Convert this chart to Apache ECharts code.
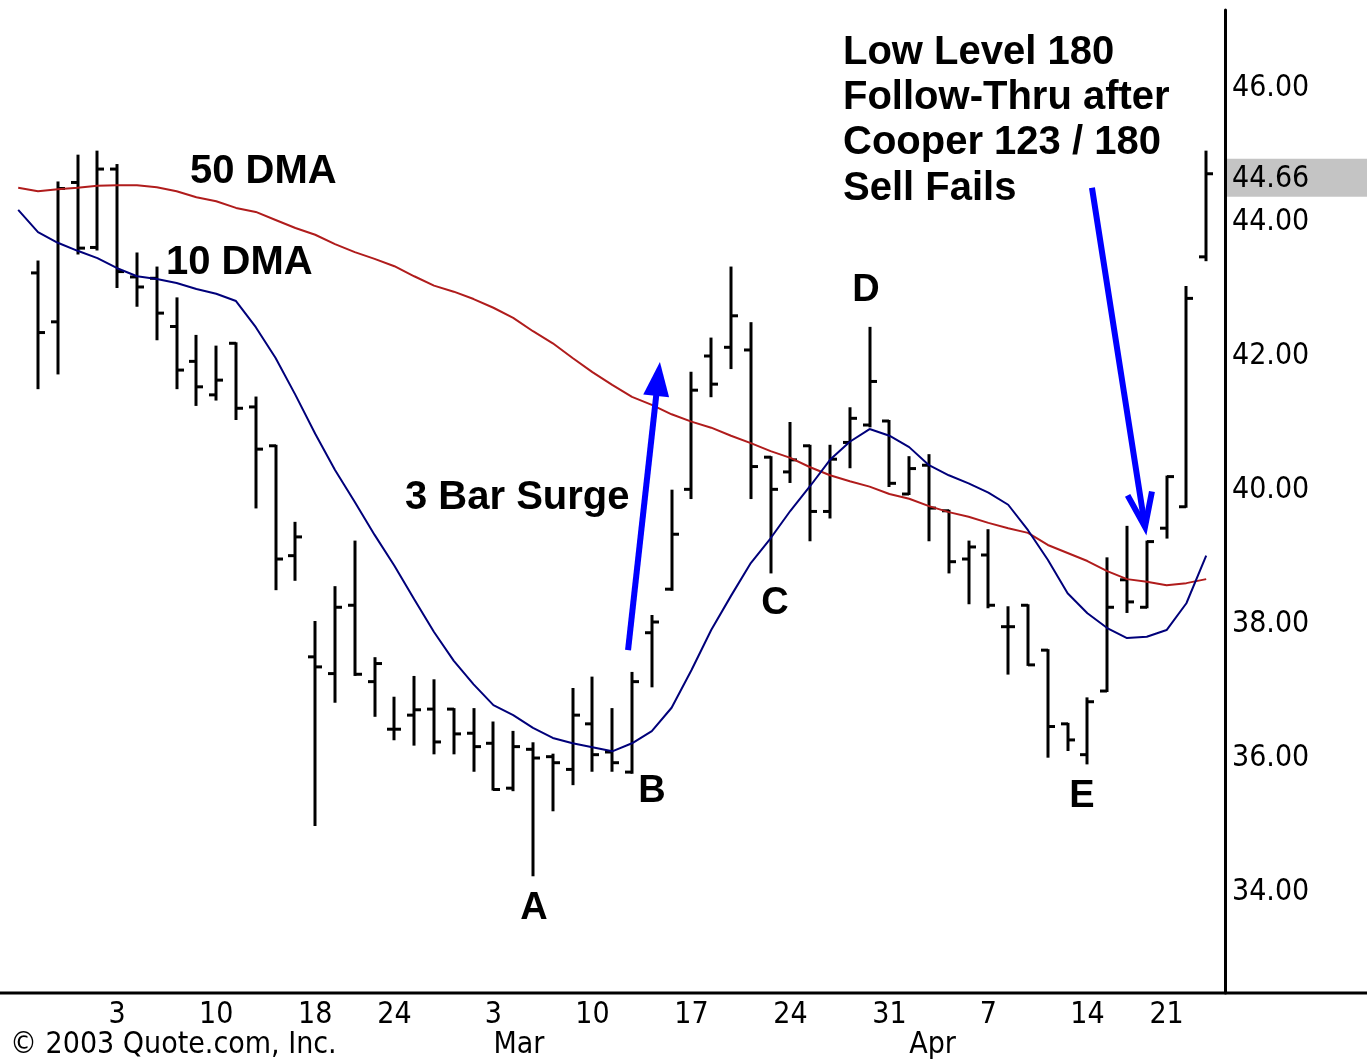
<!DOCTYPE html>
<html>
<head>
<meta charset="utf-8">
<script src="https://cdn.jsdelivr.net/npm/echarts@6/dist/echarts.min.js"></script>
<style>html,body{margin:0;padding:0;background:#fff;overflow:hidden}#c{width:1367px;height:1059px}</style>
</head>
<body>
<div id="c"></div>
<script>
// ---- data ----
const dates = ['01-27','01-28','01-29','01-30','01-31','02-03','02-04','02-05','02-06','02-07',
  '02-10','02-11','02-12','02-13','02-14','02-18','02-19','02-20','02-21','02-24',
  '02-25','02-26','02-27','02-28','03-03','03-04','03-05','03-06','03-07','03-10',
  '03-11','03-12','03-13','03-14','03-17','03-18','03-19','03-20','03-21','03-24',
  '03-25','03-26','03-27','03-28','03-31','04-01','04-02','04-03','04-04','04-07',
  '04-08','04-09','04-10','04-11','04-14','04-15','04-16','04-17','04-21','04-22','04-23'];

const open = [null,
  43.18,42.45,44.53,43.56,44.73,43.12,43.10,42.38,41.86,41.36,
  42.13,41.18,40.60,38.96,37.45,37.20,38.22,37.08,36.37,36.58,
  36.67,36.67,36.31,36.16,35.49,36.07,35.96,35.77,36.45,36.03,
  35.73,37.81,38.46,39.95,41.94,42.07,42.03,40.43,40.21,40.60,
  39.62,40.65,40.91,40.97,39.88,40.31,39.63,38.91,38.97,37.90,
  38.22,37.55,36.45,35.99,36.94,38.60,38.19,39.37,39.69,43.42];
const high = [null,
  43.35,44.53,44.93,44.99,44.79,43.47,43.26,42.80,42.24,42.08,
  42.13,41.32,40.60,39.45,37.97,38.49,39.17,37.43,36.84,37.15,
  37.10,36.67,36.67,36.47,36.33,36.16,35.99,36.97,37.14,36.67,
  37.21,38.06,39.93,41.69,42.20,43.26,42.43,40.43,40.94,40.60,
  40.60,41.16,42.36,40.97,40.43,40.46,39.63,39.17,39.34,38.19,
  38.22,37.55,36.45,36.83,38.92,39.39,39.17,40.14,42.97,44.99];
const low = [null,
  41.46,41.68,43.47,43.53,42.97,42.69,42.19,41.46,41.21,41.29,
  41.00,39.68,38.46,38.60,34.94,36.78,37.18,36.57,36.22,36.14,
  36.01,36.01,35.75,35.47,35.46,34.19,35.16,35.55,35.75,35.75,
  35.72,37.01,38.45,39.82,41.34,41.76,39.82,38.71,40.06,39.19,
  39.53,40.28,40.89,40.00,39.88,39.19,38.71,38.25,38.19,37.20,
  37.33,35.96,36.06,35.86,36.94,38.12,38.19,39.23,39.69,43.37];
const close = [null,
  42.29,44.44,43.55,44.73,43.20,42.97,42.58,41.73,41.48,41.58,
  41.16,40.55,38.91,39.24,37.30,38.19,37.19,37.35,36.37,36.66,
  36.18,36.30,36.11,35.47,36.11,35.94,35.87,36.58,35.99,35.87,
  37.08,37.97,39.28,41.43,41.52,42.54,40.29,39.95,40.39,39.62,
  40.40,41.01,41.56,40.04,40.26,39.67,38.87,39.09,38.22,37.90,
  37.33,36.41,36.21,36.78,38.19,38.27,39.17,40.14,42.80,44.66];

const ma10 = [44.12,
  43.79,43.63,43.51,43.40,43.25,43.13,43.09,43.03,42.94,42.87,
  42.76,42.37,41.91,41.36,40.78,40.24,39.76,39.27,38.81,38.31,
  37.82,37.39,37.04,36.73,36.58,36.39,36.24,36.16,36.10,36.04,
  36.16,36.34,36.69,37.25,37.85,38.36,38.85,39.22,39.63,40.00,
  40.39,40.66,40.85,40.75,40.58,40.31,40.16,40.04,39.90,39.72,
  39.34,38.90,38.40,38.10,37.88,37.73,37.75,37.85,38.25,38.96];
const ma50 = [44.45,
  44.40,44.43,44.45,44.48,44.49,44.49,44.46,44.40,44.31,44.25,
  44.15,44.09,43.97,43.85,43.75,43.61,43.49,43.39,43.28,43.13,
  42.99,42.90,42.79,42.66,42.51,42.31,42.13,41.91,41.70,41.51,
  41.33,41.21,41.07,40.96,40.87,40.75,40.64,40.52,40.42,40.28,
  40.16,40.07,39.99,39.88,39.81,39.70,39.61,39.54,39.45,39.37,
  39.30,39.12,39.00,38.88,38.73,38.61,38.57,38.52,38.55,38.61];

const yTicks = [34, 36, 38, 40, 42, 44, 46];
const tickDates = ['02-03','02-10','02-18','02-24','03-03','03-10','03-17','03-24','03-31','04-07','04-14','04-21'];
const monthTicks = ['03-03','04-01'];
const monthNames = ['Mar','Apr'];

// annotation arrows in data space: [x0, y0, x1, y1, headKind]
const arrows = [
  [30.8, 37.55, 32.41, 41.85, 'solid'],
  [54.23, 44.45, 56.91, 39.39, 'open']
];

// ---- chart ----
const lastClose = close[close.length - 1];
const narrow = "'Liberation Sans Narrow', 'DejaVu Sans Condensed', 'Arial Narrow', sans-serif";
const boldFont = "'Liberation Sans', Arial, sans-serif";

const ohlcData = [];
dates.forEach((d, i) => {
  if (open[i] != null) ohlcData.push([i, open[i], high[i], low[i], close[i]]);
});

function renderBar(params, api) {
  const i = api.value(0);
  const pH = api.coord([i, api.value(2)]);
  const pL = api.coord([i, api.value(3)]);
  const pO = api.coord([i, api.value(1)]);
  const pC = api.coord([i, api.value(4)]);
  const x = Math.round(pH[0]);
  const st = { stroke: '#000', lineWidth: 3 };
  return {
    type: 'group',
    children: [
      { type: 'line', shape: { x1: x, y1: pH[1] - 1, x2: x, y2: pL[1] + 1 }, style: st },
      { type: 'line', shape: { x1: x - 7, y1: pO[1], x2: x, y2: pO[1] }, style: st },
      { type: 'line', shape: { x1: x, y1: pC[1], x2: x + 7, y2: pC[1] }, style: st }
    ]
  };
}

function renderArrow(params, api) {
  const p0 = api.coord([api.value(0), api.value(1)]);
  const p1 = api.coord([api.value(2), api.value(3)]);
  const kind = arrows[params.dataIndex][4];
  const dx = p1[0] - p0[0], dy = p1[1] - p0[1];
  const len = Math.sqrt(dx * dx + dy * dy);
  const ux = dx / len, uy = dy / len;
  const nx = -uy, ny = ux;
  const col = '#0000ff';
  if (kind === 'solid') {
    const hl = 34, hw = 13;
    const bx = p1[0] - ux * hl, by = p1[1] - uy * hl;
    return {
      type: 'group',
      children: [
        { type: 'line', shape: { x1: p0[0], y1: p0[1], x2: bx + ux * 2, y2: by + uy * 2 }, style: { stroke: col, lineWidth: 6 } },
        { type: 'polygon', shape: { points: [[p1[0], p1[1]], [bx + nx * hw, by + ny * hw], [bx - nx * hw, by - ny * hw]] }, style: { fill: col } }
      ]
    };
  }
  const wl = 36, ang = 20 * Math.PI / 180;
  const bxu = -ux, byu = -uy;
  const w1 = [p1[0] + wl * (bxu * Math.cos(ang) - byu * Math.sin(ang)), p1[1] + wl * (bxu * Math.sin(ang) + byu * Math.cos(ang))];
  const w2 = [p1[0] + wl * (bxu * Math.cos(-ang) - byu * Math.sin(-ang)), p1[1] + wl * (bxu * Math.sin(-ang) + byu * Math.cos(-ang))];
  return {
    type: 'group',
    children: [
      { type: 'line', shape: { x1: p0[0], y1: p0[1], x2: p1[0], y2: p1[1] }, style: { stroke: col, lineWidth: 6 } },
      { type: 'polyline', shape: { points: [w1, [p1[0], p1[1]], w2] }, style: { stroke: col, lineWidth: 6, fill: null, lineJoin: 'miter' } }
    ]
  };
}

function txt(text, x, y, align, size) {
  return {
    type: 'text', x: x, y: y, z: 100,
    style: {
      text: text, fill: '#000', font: 'bold ' + (size || 40) + 'px ' + boldFont,
      textAlign: align || 'left', textVerticalAlign: 'middle'
    }
  };
}

const chart = echarts.init(document.getElementById('c'), null, { renderer: 'canvas' });
chart.setOption({
  animation: false,
  backgroundColor: '#fff',
  grid: { left: 8.3, right: 150.9, top: 10, bottom: 66, containLabel: false, outerBoundsMode: 'none' },
  xAxis: [
    {
      type: 'category', data: dates, boundaryGap: true,
      axisLine: { show: false }, axisTick: { show: false }, splitLine: { show: false },
      axisLabel: {
        interval: (idx, val) => tickDates.indexOf(val) >= 0,
        formatter: (val) => String(parseInt(val.slice(3), 10)),
        color: '#000', fontSize: 30, fontFamily: narrow, margin: 7
      }
    },
    {
      type: 'category', data: dates, boundaryGap: true, position: 'bottom', offset: 30,
      axisLine: { show: false }, axisTick: { show: false }, splitLine: { show: false },
      axisLabel: {
        interval: (idx, val) => monthTicks.indexOf(val) >= 0,
        formatter: (val) => { const k = monthTicks.indexOf(val); return k >= 0 ? monthNames[k] : ''; },
        align: 'left', color: '#000', fontSize: 30, fontFamily: narrow, margin: 7
      }
    },
    { type: 'value', min: -0.5, max: dates.length - 0.5, show: false }
  ],
  yAxis: {
    type: 'value', position: 'right', offset: 8.9,
    min: 32.433, max: 47.104, scale: true,
    axisLine: { show: true, onZero: false, lineStyle: { color: '#000', width: 3 } },
    axisTick: { show: false }, splitLine: { show: false },
    axisLabel: {
      customValues: yTicks.concat([lastClose]),
      margin: 2,
      formatter: (v) => Math.abs(v - lastClose) < 1e-6
        ? '{sp| }\n{hl|' + v.toFixed(2) + '}'
        : '{n|' + v.toFixed(2) + '}',
      rich: {
        n: { color: '#000', fontSize: 30, fontFamily: narrow, padding: [8, 0, 0, 5] },
        sp: { fontSize: 1, lineHeight: 8, height: 8 },
        hl: { color: '#000', fontSize: 30, fontFamily: narrow, backgroundColor: '#c4c4c4', padding: [5, 90, 3, 5] }
      }
    }
  },
  series: [
    {
      type: 'custom', name: 'OHLC', xAxisIndex: 0, renderItem: renderBar,
      data: ohlcData, encode: { x: 0, y: [1, 2, 3, 4] }, z: 3
    },
    {
      type: 'line', name: '50 DMA', xAxisIndex: 0, data: ma50, showSymbol: false, symbol: 'none',
      lineStyle: { color: '#b01c1c', width: 2 }, z: 4
    },
    {
      type: 'line', name: '10 DMA', xAxisIndex: 0, data: ma10, showSymbol: false, symbol: 'none',
      lineStyle: { color: '#00007a', width: 2 }, z: 4
    },
    {
      type: 'custom', name: 'arrows', xAxisIndex: 2, renderItem: renderArrow,
      data: arrows.map(a => a.slice(0, 4)), encode: { x: [0, 2], y: [1, 3] }, z: 6
    }
  ],
  graphic: [
    { type: 'line', shape: { x1: 0, y1: 993, x2: 1367, y2: 993 }, style: { stroke: '#000', lineWidth: 3 }, z: 50 },
    txt('50 DMA', 190, 172),
    txt('10 DMA', 166, 263),
    txt('3 Bar Surge', 405, 498),
    txt('A', 534, 909, 'center', 38),
    txt('B', 652, 792, 'center', 38),
    txt('C', 775, 604, 'center', 38),
    txt('D', 866, 291, 'center', 38),
    txt('E', 1082, 797, 'center', 38),
    txt('Low Level 180', 843, 53),
    txt('Follow-Thru after', 843, 98),
    txt('Cooper 123 / 180', 843, 143),
    txt('Sell Fails', 843, 189),
    {
      type: 'text', x: 10, y: 1045, z: 100,
      style: { text: '\u00A9 2003 Quote.com, Inc.', fill: '#000', font: '30px ' + narrow, textAlign: 'left', textVerticalAlign: 'middle' }
    }
  ]
});
</script>
</body>
</html>
